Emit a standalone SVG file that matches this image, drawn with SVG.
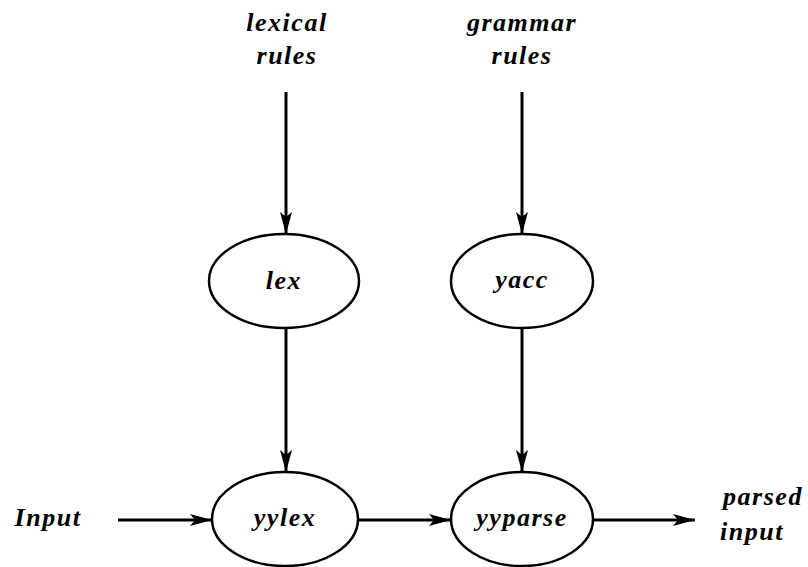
<svg xmlns="http://www.w3.org/2000/svg" width="808" height="567" viewBox="0 0 808 567">
<style>
.t{font-family:"Liberation Serif","DejaVu Serif",serif;font-style:italic;font-weight:bold;font-size:26px;letter-spacing:1.5px;fill:#000;text-anchor:middle}
.n{fill:#fff;stroke:#000;stroke-width:2.5}
.e{stroke:#000;stroke-width:3;fill:none;marker-end:url(#ah)}
</style>
<defs>
<marker id="ah" markerUnits="userSpaceOnUse" markerWidth="24" markerHeight="14" refX="22" refY="7" orient="auto">
<path d="M0,1 L22,7 L0,13 L5,7 z" fill="#000"/>
</marker>
</defs>
<rect width="808" height="567" fill="#fff"/>
<g id="connectors">
<line class="e" x1="286" y1="92" x2="286" y2="234"/>
<line class="e" x1="522" y1="92" x2="522" y2="234"/>
<line class="e" x1="286" y1="328" x2="286" y2="472"/>
<line class="e" x1="522" y1="328" x2="522" y2="472"/>
<line class="e" x1="118" y1="520" x2="212" y2="520"/>
<line class="e" x1="358" y1="520" x2="451" y2="520"/>
<line class="e" x1="593" y1="520" x2="695" y2="520"/>
</g>
<g id="lexical-rules"><text class="t" x="287" y="31">lexical</text><text class="t" x="287" y="64">rules</text></g>
<g id="grammar-rules"><text class="t" x="522" y="31">grammar</text><text class="t" x="522" y="64">rules</text></g>
<g id="lex"><ellipse class="n" cx="284" cy="281" rx="75" ry="47"/><text class="t" x="284" y="289">lex</text></g>
<g id="yacc"><ellipse class="n" cx="522" cy="281" rx="71" ry="47"/><text class="t" x="522" y="288">yacc</text></g>
<g id="yylex"><ellipse class="n" cx="285" cy="519" rx="73" ry="47"/><text class="t" x="285" y="526">yylex</text></g>
<g id="yyparse"><ellipse class="n" cx="522" cy="519" rx="71" ry="47"/><text class="t" x="522" y="526">yyparse</text></g>
<g id="input"><text class="t" x="48" y="526">Input</text></g>
<g id="parsed-input"><text class="t" x="763" y="505">parsed</text><text class="t" x="752" y="540">input</text></g>
</svg>
